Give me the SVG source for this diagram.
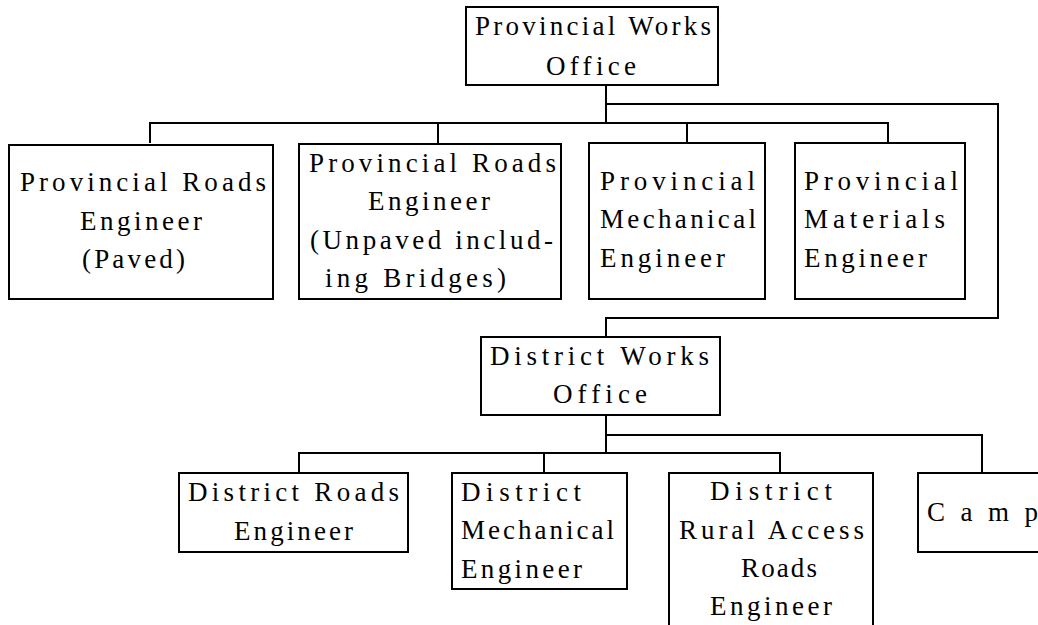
<svg xmlns="http://www.w3.org/2000/svg" width="1038" height="625" viewBox="0 0 1038 625">
<style>
rect{fill:#fff;stroke:#000;stroke-width:2}
.c{fill:none;stroke:#000;stroke-width:2}
text{font-family:"Liberation Serif","DejaVu Serif",serif;font-size:27px;fill:#000}
</style>
<rect x="0" y="0" width="1038" height="625" style="stroke:none"/>
<g id="connectors" class="c">
<path class="c" d="M606 85V123M150 143V123H888V143M438 123V143M687 123V143"/>
<path class="c" d="M606 104H998V318H606V337"/>
<path class="c" d="M606 415V453M299 473V453H780V473M544 453V473"/>
<path class="c" d="M606 435H982V473"/>
</g>
<g id="provincial-works-office">
<rect x="466" y="7" width="252" height="78"/>
<text x="475" y="35" textLength="236" lengthAdjust="spacing">Provincial Works</text>
<text x="546" y="75" textLength="90" lengthAdjust="spacing">Office</text>
</g>
<g id="prov-roads-paved">
<rect x="9" y="145" width="264" height="154"/>
<text x="20" y="191" textLength="246" lengthAdjust="spacing">Provincial Roads</text>
<text x="80" y="230" textLength="122" lengthAdjust="spacing">Engineer</text>
<text x="82" y="268" textLength="103" lengthAdjust="spacing">(Paved)</text>
</g>
<g id="prov-roads-unpaved">
<rect x="299" y="144" width="262" height="155"/>
<text x="309" y="172" textLength="247" lengthAdjust="spacing">Provincial Roads</text>
<text x="368" y="210" textLength="122" lengthAdjust="spacing">Engineer</text>
<text x="310" y="249" textLength="243" lengthAdjust="spacing">(Unpaved includ-</text>
<text x="325" y="287" textLength="181" lengthAdjust="spacing">ing Bridges)</text>
</g>
<g id="prov-mechanical">
<rect x="589" y="143" width="176" height="156"/>
<text x="600" y="190" textLength="155" lengthAdjust="spacing">Provincial</text>
<text x="600" y="228" textLength="156" lengthAdjust="spacing">Mechanical</text>
<text x="600" y="267" textLength="125" lengthAdjust="spacing">Engineer</text>
</g>
<g id="prov-materials">
<rect x="795" y="143" width="170" height="156"/>
<text x="804" y="190" textLength="154" lengthAdjust="spacing">Provincial</text>
<text x="804" y="228" textLength="141" lengthAdjust="spacing">Materials</text>
<text x="804" y="267" textLength="123" lengthAdjust="spacing">Engineer</text>
</g>
<g id="district-works-office">
<rect x="481" y="337" width="239" height="78"/>
<text x="490" y="365" textLength="219" lengthAdjust="spacing">District Works</text>
<text x="553" y="403" textLength="94" lengthAdjust="spacing">Office</text>
</g>
<g id="district-roads">
<rect x="179" y="473" width="229" height="79"/>
<text x="188" y="501" textLength="211" lengthAdjust="spacing">District Roads</text>
<text x="234" y="540" textLength="119" lengthAdjust="spacing">Engineer</text>
</g>
<g id="district-mechanical">
<rect x="452" y="473" width="175" height="116"/>
<text x="461" y="501" textLength="120" lengthAdjust="spacing">District</text>
<text x="461" y="539" textLength="153" lengthAdjust="spacing">Mechanical</text>
<text x="461" y="578" textLength="121" lengthAdjust="spacing">Engineer</text>
</g>
<g id="district-rural-access">
<rect x="669" y="473" width="204" height="160"/>
<text x="710" y="500" textLength="122" lengthAdjust="spacing">District</text>
<text x="679" y="539" textLength="185" lengthAdjust="spacing">Rural Access</text>
<text x="741" y="577" textLength="76" lengthAdjust="spacing">Roads</text>
<text x="710" y="615" textLength="122" lengthAdjust="spacing">Engineer</text>
</g>
<g id="camp">
<rect x="918" y="473" width="130" height="79"/>
<text x="927" y="521" textLength="111" lengthAdjust="spacing">C a m p</text>
</g>
</svg>
